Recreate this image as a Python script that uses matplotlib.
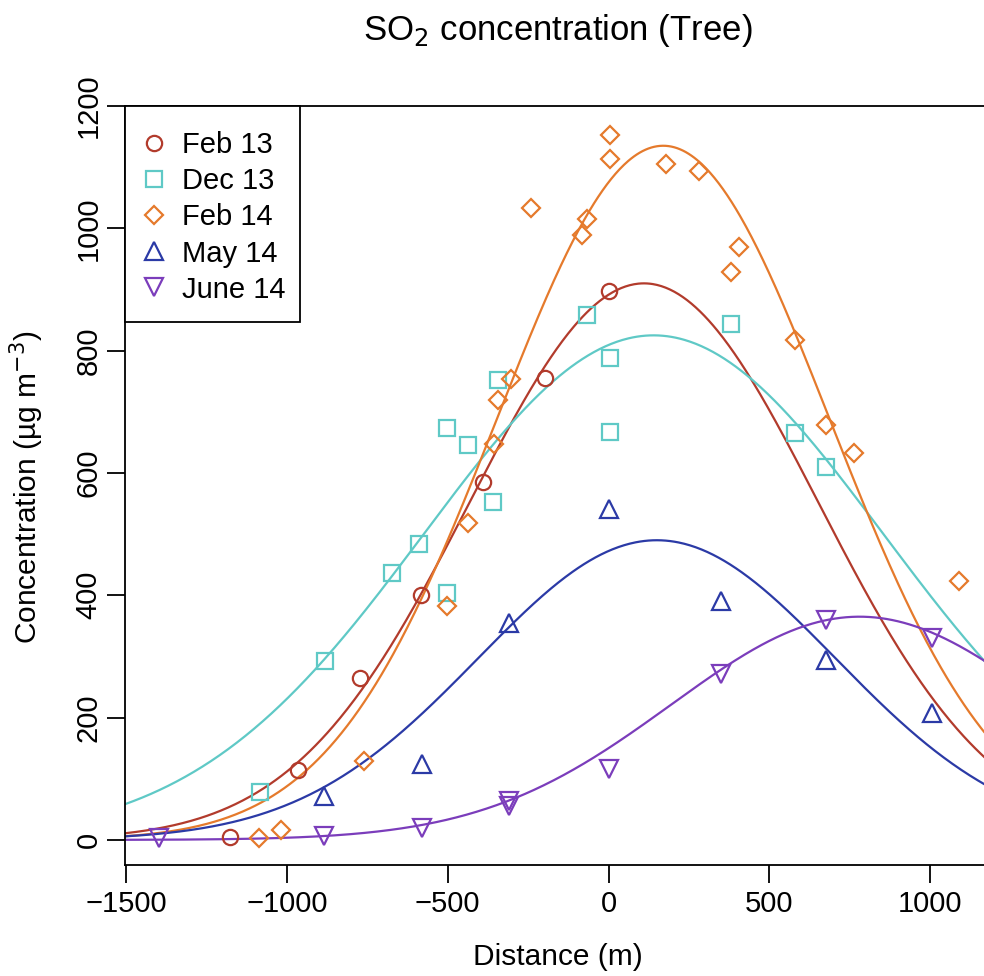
import numpy as np
import matplotlib
matplotlib.use("Agg")
import matplotlib.pyplot as plt
from matplotlib.patches import Rectangle

plt.rcParams['font.family'] = ['Liberation Sans', 'DejaVu Sans']

# ---- data ----
series_names = ["Feb 13", "Dec 13", "Feb 14", "May 14", "June 14"]
series_colors = ["#b23b2c", "#5fc9c6", "#e57a2c", "#2b3aa6", "#7b3dbb"]
series_markers = ["o", "s", "D", "^", "v"]

feb13_x = [-1177, -966, -774, -584, -389, -197, 0]
feb13_y = [5, 114, 264, 401, 585, 755, 898]

dec13_x = [-1084, -882, -674, -588, -501, -501, -438, -358, -343, -67, 5, 5, 382, 581, 676]
dec13_y = [78, 292, 437, 484, 403, 673, 646, 553, 752, 859, 788, 667, 843, 666, 610]

feb14_x = [-1088, -1018, -760, -501, -436, -355, -343, -302, -242, -82, -67,
           6, 6, 179, 280, 404, 382, 581, 677, 762, 1090]
feb14_y = [3, 16, 129, 382, 519, 647, 719, 753, 1034, 989, 1016,
           1152, 1113, 1105, 1094, 970, 928, 818, 678, 633, 424]

may14_x = [-884, -581, -308, 0, 349, 676, 1006]
may14_y = [72, 124, 355, 541, 391, 295, 207]

june14_x = [-1396, -884, -581, -308, -308, 0, 349, 676, 1006]
june14_y = [3, 6, 20, 55, 63, 116, 272, 359, 330]

# Gaussian fit parameters (amplitude, centre, width) per series
fit_amp = [910, 825, 1135, 490, 365]
fit_center = [110, 140, 170, 150, 780]
fit_sigma = [542, 714, 517, 555, 585]

xs = [feb13_x, dec13_x, feb14_x, may14_x, june14_x]
ys = [feb13_y, dec13_y, feb14_y, may14_y, june14_y]

x_ticks = [-1500, -1000, -500, 0, 500, 1000]
y_ticks = [0, 200, 400, 600, 800, 1000, 1200]

# ---- figure ----
W, H = 984, 976
fig = plt.figure(figsize=(W / 100, H / 100), dpi=100)
left, right, top, bottom = 125, 984, 106, 865
ax = fig.add_axes([left / W, 1 - bottom / H, (right - left) / W, (bottom - top) / H])

xmin, xmax = -1503, 1167
ax.set_xlim(xmin, xmax)
ax.set_ylim(-41, 1200)

xx = np.linspace(xmin, xmax, 600)
for i in range(len(series_names)):
    yy = fit_amp[i] * np.exp(-(xx - fit_center[i]) ** 2 / (2 * fit_sigma[i] ** 2))
    ax.plot(xx, yy, color=series_colors[i], lw=1.6, zorder=2)

handles = []
for i in range(len(series_names)):
    ms = 11
    if series_markers[i] == "D":
        ms = 9.5
    if series_markers[i] in ("^", "v"):
        ms = 12.5
    h = ax.plot(xs[i], ys[i], linestyle="none", marker=series_markers[i], ms=ms,
                mfc="none", mec=series_colors[i], mew=1.6, label=series_names[i],
                zorder=3)[0]
    handles.append(h)

for s in ["top", "left", "bottom"]:
    ax.spines[s].set_linewidth(1.3)
    ax.spines[s].set_color("black")
ax.spines["right"].set_visible(False)

ax.set_xticks(x_ticks)
ax.set_xticklabels(["\u2212" + str(abs(v)) if v < 0 else str(v) for v in x_ticks])
ax.set_yticks(y_ticks)
ax.set_yticklabels([str(v) for v in y_ticks], rotation=90, va="center")
ax.tick_params(axis="both", direction="out", length=13, width=1.3, labelsize=21,
               colors="black")
ax.tick_params(axis="x", pad=5)
ax.tick_params(axis="y", pad=3)

fig.text(558 / W, 1 - 40 / H, "SO$_2$ concentration (Tree)", ha="center",
         va="baseline", fontsize=25)
fig.text(558 / W, 1 - 965 / H, "Distance (m)", ha="center", va="baseline",
         fontsize=21.5)
fig.text(27 / W, 1 - 487 / H, "Concentration (\u00b5g m$^{-3}$)", ha="center",
         va="center", fontsize=21.5, rotation=90)

# legend frame (R-style box in the top-left corner)
fig.patches.append(Rectangle((left / W, 1 - 322 / H), (300 - left) / W, (322 - top) / H,
                             transform=fig.transFigure, facecolor="white",
                             edgecolor="black", linewidth=1.3, zorder=4))
leg = fig.legend(handles=handles, loc="upper left",
                 bbox_to_anchor=(151 / W, 1 - 131 / H),
                 frameon=False, fontsize=21, handlelength=0.2,
                 handletextpad=0.86, borderpad=0, labelspacing=0.28,
                 borderaxespad=0)
leg.set_zorder(5)

fig.savefig("out.png", dpi=100)
